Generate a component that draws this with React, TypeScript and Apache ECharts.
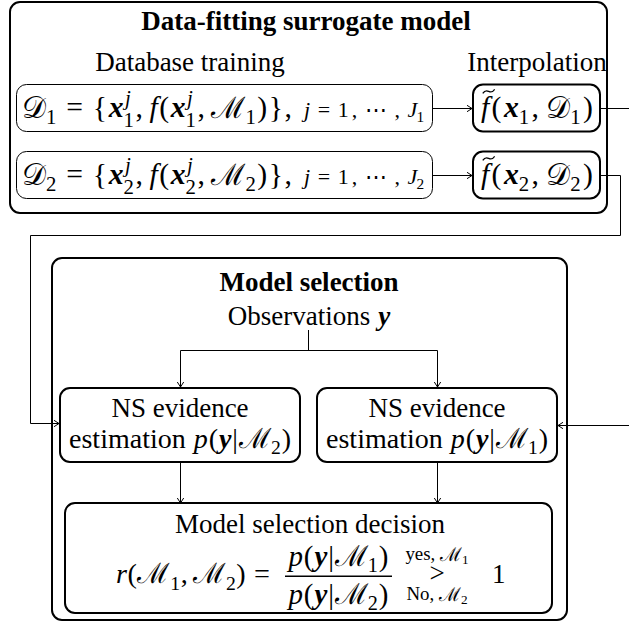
import React, { useEffect, useRef } from "react";
import * as echarts from "echarts";

const W = 629;
const H = 624;

// ---------- text content ----------
const TOP_TITLE = "Data-fitting surrogate model";
const TRAINING_HEADER = "Database training";
const INTERP_HEADER = "Interpolation";
const SEL_TITLE = "Model selection";
const OBS_TEXT = "Observations";
const NS_TEXT = "NS evidence";
const EST_TEXT = "estimation";
const DECISION_TEXT = "Model selection decision";
const MODEL_IDS = ["1", "2"];
const DECISION_WORDS = ["yes,", "No,"];
const THRESHOLD = "1";
const CAL_D = "\u{1D49F}";
const CAL_M = "\u2133";

const SERIF = "Liberation Serif";
const CALF = "DejaVu Serif";
const K = 0.33; // baseline offset below em-centre

type Kind = "rm" | "it" | "bi" | "b" | "cal";
interface Atom { t?: string; k?: Kind; z?: number; sub?: Atom[]; sup?: Atom[]; space?: number; tilde?: boolean; }
interface Glyph { t: string; k: Kind; x: number; dy: number; s: number; w: number; tilde?: boolean; }

let ctx: CanvasRenderingContext2D | null = null;
function fam(k: Kind) { return k === "cal" ? CALF : SERIF; }
const isIt = (k: Kind) => k === "it" || k === "bi";
const isBold = (k: Kind) => k === "bi" || k === "b";
function cssFont(k: Kind, s: number) {
  return `${isIt(k) ? "italic " : ""}${isBold(k) ? "bold " : ""}${s}px "${fam(k)}"`;
}
function measure(t: string, k: Kind, s: number) {
  if (!ctx) ctx = document.createElement("canvas").getContext("2d");
  ctx!.font = cssFont(k, s);
  return ctx!.measureText(t).width;
}
function textEl(t: string, k: Kind, s: number, left: number, centerY: number) {
  const fs = Number.isInteger(s) ? s + 0.01 : s;
  const style: any = { text: t, fontFamily: fam(k), fontSize: fs, fill: "#000" };
  style.fontStyle = isIt(k) ? "italic" : "normal";
  style.fontWeight = isBold(k) ? 700 : 400;
  return { type: "text", x: left, y: centerY - s / 2, silent: true, style };
}
function layoutRow(atoms: Atom[], s: number, gapExtra = 0): { w: number; g: Glyph[] } {
  let x = 0;
  const g: Glyph[] = [];
  const real = atoms.filter((a) => a.space === undefined);
  const last = real[real.length - 1];
  for (const a of atoms) {
    const sz = s * (a.z ?? 1);
    if (a.space !== undefined) { x += a.space * sz; continue; }
    const k = a.k ?? "rm";
    const w = measure(a.t!, k, sz);
    g.push({ t: a.t!, k, x, dy: 0, s: sz, w, tilde: a.tilde });
    const ic = isIt(k) ? 0.05 * sz : 0;
    let ex = 0;
    const both = !!(a.sub && a.sup);
    if (a.sup) {
      const r = layoutRow(a.sup, sz * 0.7);
      r.g.forEach((q) => g.push({ ...q, x: q.x + x + w + ic, dy: q.dy - (both ? 0.42 : 0.38) * sz }));
      ex = Math.max(ex, r.w + ic);
    }
    if (a.sub) {
      const r = layoutRow(a.sub, sz * 0.7);
      r.g.forEach((q) => g.push({ ...q, x: q.x + x + w - (k === "it" ? 0.04 * sz : 0), dy: q.dy + (both ? 0.3 : 0.22) * sz }));
      ex = Math.max(ex, r.w);
    }
    x += w + ex + (a === last ? 0 : gapExtra);
  }
  return { w: x, g };
}
// enlarge the row a little and stretch its gaps so that it spans the given width
function fitRow(atoms: Atom[], s: number, target: number) {
  const nat = layoutRow(atoms, s);
  const r = target / nat.w;
  const f = Math.min(1.1, Math.max(0.92, 1 + (r - 1) * 0.6));
  const s2 = s * f;
  const nat2 = layoutRow(atoms, s2);
  const n = atoms.filter((a) => a.space === undefined).length;
  return layoutRow(atoms, s2, (target - nat2.w) / Math.max(1, n - 1));
}
function glyphEls(g: Glyph[], x0: number, base: number) {
  const out: any[] = [];
  g.forEach((q) => {
    out.push(textEl(q.t, q.k, q.s, x0 + q.x, base + q.dy - K * q.s));
    if (q.tilde) {
      const cx = x0 + q.x + q.w / 2 + 0.12 * q.s;
      const ty = base + q.dy - 0.86 * q.s;
      const hw = 0.2 * q.s;
      out.push({
        type: "bezierCurve",
        silent: true,
        shape: { x1: cx - hw, y1: ty + 2, cpx1: cx - hw * 0.2, cpy1: ty - 5, cpx2: cx + hw * 0.2, cpy2: ty + 5, x2: cx + hw, y2: ty - 2 },
        style: { stroke: "#000", lineWidth: 1.3, fill: null },
      });
    }
  });
  return out;
}

// atom helpers
const rm = (t: string, z?: number): Atom => ({ t, k: "rm", z });
const it = (t: string, z?: number): Atom => ({ t, k: "it", z });
const sp = (em: number): Atom => ({ space: em });
const calM = (i: string): Atom => ({ t: CAL_M, k: "cal", sub: [rm(i)] });
const py = (i: string): Atom[] => [it("p"), rm("("), { t: "y", k: "bi" }, rm("|"), calM(i), rm(")")];

function datasetMain(i: string): Atom[] {
  const xj = (): Atom => ({ t: "x", k: "bi", sub: [rm(i)], sup: [it("j")] });
  return [
    { t: CAL_D, k: "cal", sub: [rm(i)] }, sp(0.28), rm("="), sp(0.28), rm("{"), xj(), rm(","), sp(0.17),
    it("f"), rm("("), xj(), rm(","), sp(0.17), calM(i), rm(")"), rm("}"), rm(","),
  ];
}
function datasetRange(i: string): Atom[] {
  return [it("j"), sp(0.2), rm("="), sp(0.2), rm("1"), rm(","), sp(0.2), rm("\u22EF"), sp(0.2), rm(","), sp(0.2), { t: "J", k: "it", sub: [rm(i)] }];
}
function surrogateRow(i: string): Atom[] {
  return [{ t: "f", k: "it", tilde: true }, rm("("), { t: "x", k: "bi", sub: [rm(i)] }, rm(","), sp(0.17), { t: CAL_D, k: "cal", sub: [rm(i)] }, rm(")")];
}

function line(points: number[][], lw = 1, color = "#000") {
  return { type: "polyline", silent: true, shape: { points }, style: { stroke: color, lineWidth: lw, fill: null } };
}
function arrow(points: number[][], color = "#000") {
  const n = points.length;
  const [x1, y1] = points[n - 2];
  const [x2, y2] = points[n - 1];
  const L = Math.hypot(x2 - x1, y2 - y1);
  const dx = (x2 - x1) / L, dy = (y2 - y1) / L;
  const a = 5, b = 3.2;
  const head = [
    [x2 - a * dx + b * dy, y2 - a * dy - b * dx],
    [x2, y2],
    [x2 - a * dx - b * dy, y2 - a * dy + b * dx],
  ];
  return [line(points, 1, color), line(head, 1, color)];
}
function box(x: number, y: number, w: number, h: number, lw: number, r = 10) {
  return { type: "rect", silent: true, shape: { x, y, width: w, height: h, r }, style: { fill: null, stroke: "#000", lineWidth: lw } };
}
function label(t: string, cx: number, cy: number, s: number, bold = false) {
  const k: Kind = bold ? "b" : "rm";
  const w = measure(t, k, s);
  return textEl(t, k, s, cx - w / 2, cy);
}

function buildGraphics() {
  const S = 27;
  const els: any[] = [];
  // ---- top block ----
  els.push(box(10, 2, 597, 211, 2));
  els.push(label(TOP_TITLE, 306, 21, S, true));
  els.push(label(TRAINING_HEADER, 190, 62, S));
  els.push(label(INTERP_HEADER, 537, 62, S));
  const rowsY = [84.5, 151.5];
  MODEL_IDS.forEach((id, i) => {
    const y = rowsY[i];
    const base = y + 23.5 + K * S;
    els.push(box(16.5, y, 416, 47, 1));
    els.push(box(473, y, 127, 47, 2));
    els.push(...glyphEls(fitRow(datasetMain(id), S, 270).g, 22, base));
    els.push(...glyphEls(fitRow(datasetRange(id), S * 0.74, 121).g, 304, base));
    els.push(...glyphEls(fitRow(surrogateRow(id), S, 112).g, 481, base));
    els.push(...arrow([[433, y + 24], [472, y + 24]]));
  });
  els.push(line([[601, 108.5], [629, 108.5]]));
  els.push(...arrow([[601, 175.5], [620.5, 175.5], [620.5, 235.5], [30.5, 235.5], [30.5, 423.5], [59, 423.5]]));
  els.push(...arrow([[629, 425.5], [558, 425.5]]));

  // ---- model selection block ----
  els.push(box(52, 258, 515, 362, 2));
  els.push(label(SEL_TITLE, 309, 282, S, true));
  const obs = layoutRow([rm(OBS_TEXT), sp(0.3), { t: "y", k: "bi" }], S);
  els.push(...glyphEls(obs.g, 309 - obs.w / 2, 316 + K * S));
  els.push(line([[308.5, 330], [308.5, 350.5]]));
  els.push(line([[180.5, 350.5], [437.5, 350.5]]));
  els.push(...arrow([[180.5, 350.5], [180.5, 387]]));
  els.push(...arrow([[437.5, 350.5], [437.5, 387]]));

  const nsBoxes = [{ x: 60, id: MODEL_IDS[1] }, { x: 317, id: MODEL_IDS[0] }];
  nsBoxes.forEach((b) => {
    els.push(box(b.x, 388, 240, 74, 2));
    els.push(label(NS_TEXT, b.x + 120, 408, S));
    const est = fitRow([rm(EST_TEXT), sp(0.25), ...py(b.id)], S, 222);
    els.push(...glyphEls(est.g, b.x + 120 - est.w / 2, 439 + K * S));
  });
  els.push(...arrow([[180.5, 462], [180.5, 503]]));
  els.push(...arrow([[437.5, 462], [437.5, 503]]));

  els.push(box(65, 503, 487, 110, 2));
  els.push(label(DECISION_TEXT, 310, 524, S));

  // decision formula
  const B = 583;
  const left = fitRow([it("r"), rm("("), calM(MODEL_IDS[0]), rm(","), sp(0.17), calM(MODEL_IDS[1]), rm(")"), sp(0.28), rm("=")], S, 154);
  els.push(...glyphEls(left.g, 116, B));
  const fx0 = 285, fx1 = 392;
  const axis = B - 0.25 * S;
  els.push({ type: "line", silent: true, shape: { x1: fx0, y1: axis, x2: fx1, y2: axis }, style: { stroke: "#000", lineWidth: 1.6 } });
  const num = fitRow(py(MODEL_IDS[0]), S, 100);
  const den = fitRow(py(MODEL_IDS[1]), S, 100);
  const fc = (fx0 + fx1) / 2;
  els.push(...glyphEls(num.g, fc - num.w / 2, B - 0.64 * S));
  els.push(...glyphEls(den.g, fc - den.w / 2, B + 0.76 * S));
  const zs = 0.7;
  const yes = layoutRow([rm(DECISION_WORDS[0]), sp(0.25), calM(MODEL_IDS[0])], S * zs);
  const no = layoutRow([rm(DECISION_WORDS[1]), sp(0.25), calM(MODEL_IDS[1])], S * zs);
  const gt = layoutRow([rm(">")], S);
  const sc = 437;
  els.push(...glyphEls(yes.g, sc - yes.w / 2, B - 0.85 * S));
  els.push(...glyphEls(gt.g, sc - gt.w / 2, B - 0.05 * S));
  els.push(...glyphEls(no.g, sc - no.w / 2, B + 0.62 * S));
  els.push(...glyphEls(layoutRow([rm(THRESHOLD)], S).g, 492, B));
  return els;
}

export default function App() {
  const ref = useRef<HTMLDivElement>(null);
  useEffect(() => {
    const chart = echarts.init(ref.current!, null, { renderer: "svg", width: W, height: H });
    chart.setOption({
      animation: false,
      backgroundColor: "#fff",
      graphic: { elements: buildGraphics() },
    });
    return () => chart.dispose();
  }, []);
  return <div ref={ref} style={{ position: "absolute", left: 0, top: 0, width: W, height: H, background: "#fff" }} />;
}
